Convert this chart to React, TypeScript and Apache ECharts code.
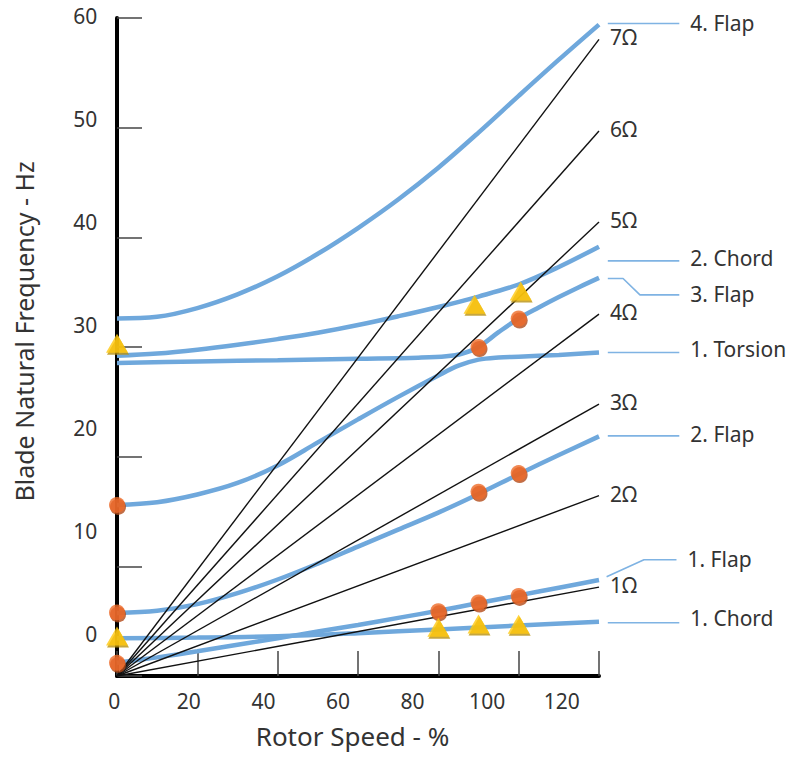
import React, { useEffect, useRef } from "react";
import * as echarts from "echarts";

// Rotor speed (%) vs blade natural frequency (Hz)
const xTicks = [0, 20, 40, 60, 80, 100, 120];
const yTicks = [0, 10, 20, 30, 40, 50, 60];
const calloutMax = 140;

const flap4 = [[0, 32.6], [10, 32.75], [20, 33.55], [30, 34.8], [40, 36.45], [50, 38.5], [60, 40.85], [70, 43.45], [80, 46.35], [90, 49.55], [100, 52.9], [110, 56.2], [120, 59.4]];
const chord2 = [[0, 29.2], [10, 29.4], [20, 29.75], [30, 30.2], [40, 30.72], [50, 31.3], [60, 32.0], [70, 32.8], [80, 33.65], [90, 34.6], [100, 35.7], [110, 37.3], [120, 39.15]];
const flap3 = [[0, 28.55], [20, 28.68], [40, 28.8], [60, 28.93], [75, 29.03], [82, 29.15], [86, 29.4], [90, 30.0], [95, 31.35], [100, 32.6], [105, 33.6], [110, 34.55], [115, 35.45], [120, 36.3]];
const torsion1 = [[0, 15.6], [10, 15.85], [20, 16.55], [30, 17.6], [40, 19.2], [50, 21.3], [60, 23.4], [70, 25.45], [80, 27.4], [85, 28.3], [90, 28.85], [95, 29.05], [100, 29.12], [110, 29.28], [120, 29.5]];
const flap2 = [[0, 5.75], [10, 5.95], [20, 6.55], [30, 7.55], [40, 8.8], [50, 10.25], [60, 11.8], [70, 13.35], [80, 14.9], [90, 16.6], [100, 18.4], [110, 20.15], [120, 21.85]];
const flap1 = [[0, 1.2], [10, 1.7], [20, 2.25], [30, 2.85], [40, 3.45], [50, 4.05], [60, 4.65], [70, 5.3], [80, 5.95], [90, 6.65], [100, 7.35], [110, 8.05], [120, 8.75]];
const chord1 = [[0, 3.45], [20, 3.5], [40, 3.62], [60, 3.9], [80, 4.25], [100, 4.6], [120, 4.95]];

const modeCurves = [flap4, chord2, flap3, torsion1, flap2, flap1, chord1];

// per-rev excitation lines (value at 120 %)
const rayLabels = ["1Ω", "2Ω", "3Ω", "4Ω", "5Ω", "6Ω", "7Ω"];
const rayEnd = [8.1, 16.45, 24.8, 33.0, 41.4, 49.7, 58.05];

// mode name call-outs (leader polylines)
const modeNames = ["4. Flap", "2. Chord", "3. Flap", "1. Torsion", "2. Flap", "1. Flap", "1. Chord"];
const leaders = [
  [[122.2, 59.5], [140, 59.5]],
  [[122.2, 37.85], [140, 37.85]],
  [[122.2, 36.25], [126, 36.25], [130.2, 34.75], [140, 34.75]],
  [[122.2, 29.5], [140, 29.5]],
  [[122.2, 21.9], [140, 21.9]],
  [[121.9, 9.05], [131.2, 10.6], [139.3, 10.6]],
  [[122.2, 4.85], [140, 4.85]],
];
const labelLift = [0, -2.5, -1, -3.5, -1.5, -0.5, -5];

// test points
const measuredDots = [[0, 15.6], [0, 5.8], [0, 1.2], [90, 30.0], [100, 32.6], [90, 16.8], [100, 18.5], [80, 5.9], [90, 6.7], [100, 7.3]];
const measuredTriangles = [[0, 30.35], [0, 3.65], [80, 4.45], [90, 4.74], [100, 4.72], [89, 33.9], [100.5, 35.1]];

const FONT = "Noto Sans";
const TEXT = "#333333";
const BLUE = "#6FA8DC";

export default function App() {
  const ref = useRef<HTMLDivElement>(null);
  useEffect(() => {
    if (!ref.current) return;
    const chart = echarts.init(ref.current, null, { renderer: "svg" });
    const series: any[] = [];
    modeCurves.forEach((c) => {
      series.push({
        type: "line",
        data: c,
        smooth: 0.35,
        showSymbol: false,
        lineStyle: { color: BLUE, width: 4.5 },
        z: 2,
        silent: true,
      });
    });
    rayEnd.forEach((v, i) => {
      series.push({
        type: "line",
        data: [[0, 0], [xTicks[xTicks.length - 1], v]],
        showSymbol: false,
        lineStyle: { color: "#111111", width: 1.4 },
        z: 3,
        silent: true,
        endLabel: {
          show: true,
          formatter: rayLabels[i],
          distance: 11,
          offset: [0, -2],
          color: TEXT,
          fontSize: 21,
          fontFamily: FONT,
        },
      });
    });
    leaders.forEach((pts, i) => {
      series.push({
        type: "line",
        xAxisIndex: 2,
        yAxisIndex: 2,
        data: pts,
        showSymbol: false,
        lineStyle: { color: "#7FB3E3", width: 1.6 },
        z: 3,
        silent: true,
        endLabel: {
          show: true,
          formatter: modeNames[i],
          distance: 11,
          offset: [0, labelLift[i]],
          color: TEXT,
          fontSize: 21,
          fontFamily: FONT,
        },
      });
    });
    series.push({
      type: "scatter",
      data: measuredDots,
      symbol: "circle",
      symbolSize: 16,
      itemStyle: {
        color: "#EE6A28",
        shadowColor: "#B24A14",
        shadowOffsetX: 1,
        shadowOffsetY: 2,
        shadowBlur: 0,
      },
      z: 6,
      silent: true,
    });
    series.push({
      type: "scatter",
      data: measuredTriangles,
      symbol: "triangle",
      symbolSize: [22, 19],
      itemStyle: {
        color: "#FFC80A",
        shadowColor: "#B8900A",
        shadowOffsetX: 1,
        shadowOffsetY: 2,
        shadowBlur: 0,
      },
      z: 6,
      silent: true,
    });

    const hiddenAxis = {
      type: "value",
      axisLine: { show: false },
      axisTick: { show: false },
      axisLabel: { show: false },
      splitLine: { show: false },
    };

    chart.setOption({
      animation: false,
      backgroundColor: "#ffffff",
      textStyle: { fontFamily: FONT },
      grid: [
        { left: 117, right: 198, top: 18, bottom: 82 },
        { left: 114.3, right: 235.3, top: 16.2, bottom: 124.4 },
        { left: 117, right: 117.7, top: 18, bottom: 82 },
      ],
      xAxis: [
        {
          type: "value",
          gridIndex: 0,
          min: xTicks[0],
          max: xTicks[xTicks.length - 1],
          interval: 20,
          axisLine: { show: true, lineStyle: { color: "#000", width: 4 } },
          axisTick: { show: true, inside: true, length: 25, lineStyle: { color: "#444", width: 1.5 } },
          axisLabel: { show: false },
          splitLine: { show: false },
          name: "Rotor Speed - %",
          nameLocation: "middle",
          nameGap: 47,
          nameTextStyle: { fontSize: 26, color: TEXT, fontFamily: FONT, padding: [0, 11, 0, 0] },
        },
        {
          type: "value",
          gridIndex: 1,
          min: xTicks[0],
          max: xTicks[xTicks.length - 1],
          interval: 20,
          offset: 42.4,
          axisLine: { show: false },
          axisTick: { show: false },
          splitLine: { show: false },
          axisLabel: { margin: 14, fontSize: 21, color: TEXT, fontFamily: FONT },
        },
        { ...hiddenAxis, gridIndex: 2, min: xTicks[0], max: calloutMax },
      ],
      yAxis: [
        {
          type: "value",
          gridIndex: 0,
          min: yTicks[0],
          max: yTicks[yTicks.length - 1],
          interval: 10,
          offset: 2,
          axisLine: { show: true, lineStyle: { color: "#000", width: 4 } },
          axisTick: { show: true, inside: true, length: 25, lineStyle: { color: "#444", width: 1.5 } },
          axisLabel: { show: false },
          splitLine: { show: false },
        },
        {
          type: "value",
          gridIndex: 1,
          min: yTicks[0],
          max: yTicks[yTicks.length - 1],
          interval: 10,
          axisLine: { show: false },
          axisTick: { show: false },
          splitLine: { show: false },
          axisLabel: { margin: 17, fontSize: 21, color: TEXT, fontFamily: FONT },
          name: "Blade Natural Frequency - Hz",
          nameLocation: "middle",
          nameRotate: 90,
          nameGap: 78,
          nameTextStyle: { fontSize: 25, color: TEXT, fontFamily: FONT, padding: [0, 13, 0, 0] },
        },
        { ...hiddenAxis, gridIndex: 2, min: yTicks[0], max: yTicks[yTicks.length - 1] },
      ],
      series,
    });
    return () => chart.dispose();
  }, []);
  return (
    <div
      ref={ref}
      style={{ position: "absolute", left: 0, top: 0, width: 797, height: 758 }}
    />
  );
}
